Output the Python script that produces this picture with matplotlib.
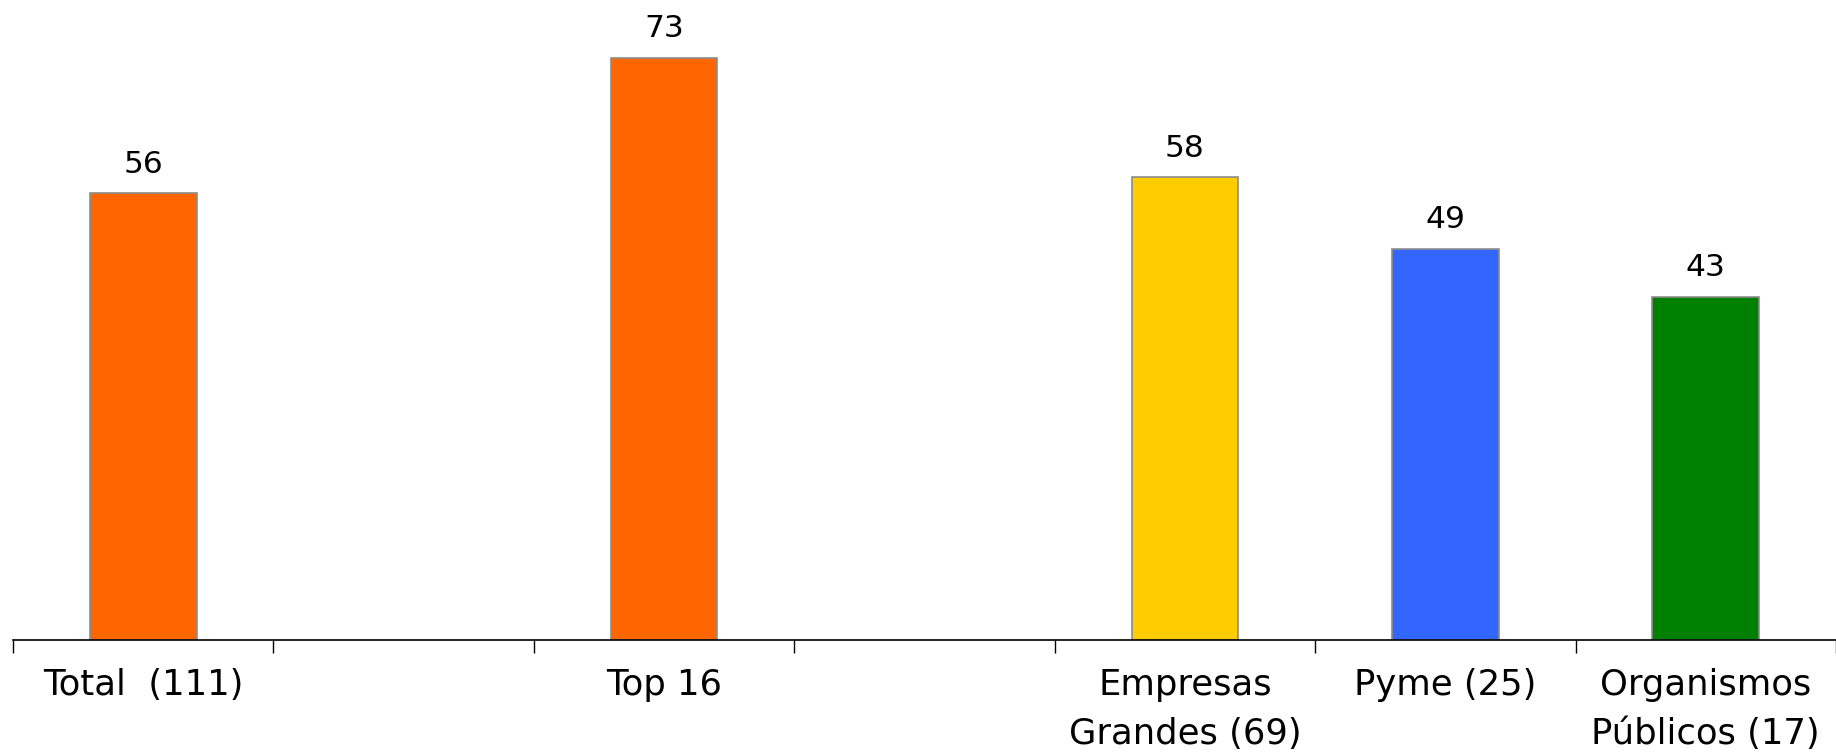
import matplotlib
matplotlib.use("Agg")
import matplotlib.pyplot as plt
import numpy as np

# Category slots (empty strings are spacer slots between groups)
categories = ["Total  (111)", "", "Top 16", "", "Empresas\nGrandes (69)", "Pyme (25)", "Organismos\nPúblicos (17)"]
values = [56, None, 73, None, 58, 49, 43]
colors = ["#FF6600", None, "#FF6600", None, "#FFCC00", "#3366FF", "#008000"]

plt.rcParams['font.family'] = ['DejaVu Sans']

fig = plt.figure(figsize=(18.36, 7.52), dpi=100)
ax = fig.add_axes([13 / 1836, 1 - 640 / 752, 1823 / 1836, 638 / 752])

x = np.arange(len(categories))
for xi, v, c in zip(x, values, colors):
    if v is None:
        continue
    ax.bar(xi, v, width=0.41, color=c, edgecolor="#8c8c8c", linewidth=1.2, zorder=2)
    ax.annotate(f"{v}", (xi, v), xytext=(0, 15), textcoords="offset points",
                ha="center", va="baseline", fontsize=22.5)

ax.set_xlim(-0.5, len(categories) - 0.5)
ax.set_ylim(0, 80)

for s in ["top", "left", "right"]:
    ax.spines[s].set_visible(False)
ax.spines["bottom"].set_linewidth(1.2)
ax.yaxis.set_visible(False)

ax.set_xticks(x)
ax.set_xticklabels(categories, fontsize=25.5, linespacing=1.56)
ax.tick_params(axis="x", which="major", length=0, pad=20)
ax.set_xticks(np.arange(-0.5, len(categories)), minor=True)
ax.tick_params(axis="x", which="minor", length=9, width=1.0, color="black")

fig.savefig("out.png", dpi=100)
